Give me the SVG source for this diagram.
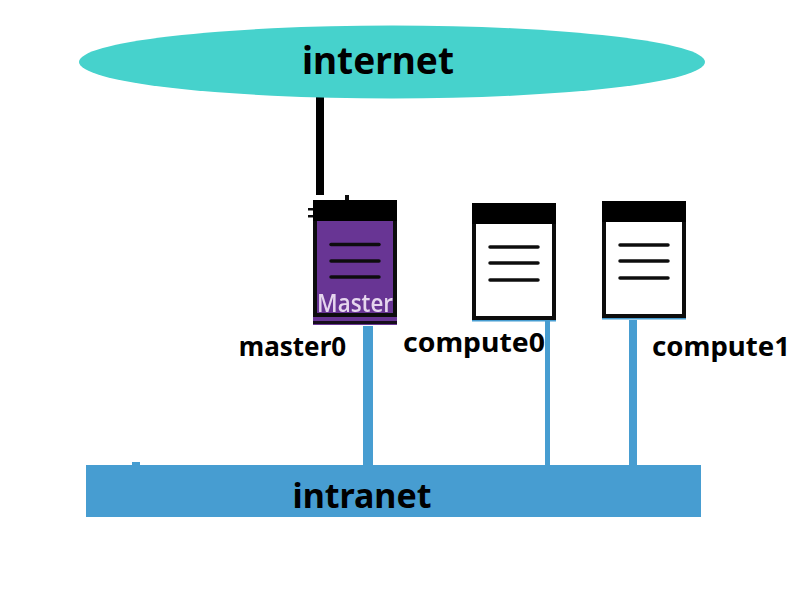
<svg xmlns="http://www.w3.org/2000/svg" width="800" height="600" viewBox="0 0 800 600">
<style>
.lbl{font-family:"Noto Sans","Liberation Sans",sans-serif;font-weight:700;fill:#000}
.big{font-size:37px}
.small{font-size:26px}
.blue{fill:#479dd1}
.hdr{fill:#040606}
.line{stroke:#111;stroke-width:3.5;stroke-linecap:round}
</style>
<defs><filter id="soft" x="-5%" y="-5%" width="110%" height="110%"><feGaussianBlur stdDeviation="0.6"/></filter></defs>
<rect width="800" height="600" fill="#fff"/>
<g id="connectors">
<rect x="316" y="97" width="8" height="98" fill="#000"/>
<rect class="blue" x="363" y="326" width="10" height="140"/>
<rect class="blue" x="545" y="321" width="5" height="145"/>
<rect class="blue" x="629" y="320" width="8" height="146"/>
<rect class="blue" x="472" y="320" width="84" height="1.5"/>
<rect class="blue" x="602" y="318" width="84" height="1.5"/>
</g>
<g id="internet">
<ellipse cx="392" cy="62" rx="313" ry="36.500" fill="#46d2cc"/>
<text class="lbl big" x="378" y="74" text-anchor="middle">internet</text>
</g>
<g id="master0">
<g filter="url(#soft)">
<rect x="308" y="208" width="8" height="2.500" fill="#111"/>
<rect x="308" y="215" width="8" height="2.500" fill="#111"/>
<rect x="345" y="195" width="4" height="7" fill="#111"/>
<rect x="313" y="200" width="84" height="125" fill="#673694"/>
<rect x="315" y="202" width="80" height="113" fill="none" stroke="#0a0a0a" stroke-width="4"/>
<rect class="hdr" x="313" y="200" width="84" height="21"/>
<rect x="313" y="321" width="84" height="3" fill="#14101c"/>
<line class="line" x1="331" y1="244.500" x2="379" y2="244.500"/>
<line class="line" x1="331" y1="261" x2="379" y2="261"/>
<line class="line" x1="331" y1="277" x2="379" y2="277"/>
<text x="317" y="311.500" textLength="76" lengthAdjust="spacingAndGlyphs" font-family="'Open Sans','Noto Sans',sans-serif" font-size="26" font-weight="600" fill="#e6d6ee">Master</text>
</g>
<text class="lbl small" x="292.500" y="356" text-anchor="middle">master0</text>
</g>
<g id="compute0">
<g filter="url(#soft)">
<rect x="474" y="205" width="80" height="113" fill="#fff" stroke="#111" stroke-width="4"/>
<rect class="hdr" x="472" y="203" width="84" height="21"/>
<line class="line" x1="490" y1="247" x2="538" y2="247"/>
<line class="line" x1="490" y1="263" x2="538" y2="263"/>
<line class="line" x1="490" y1="280" x2="538" y2="280"/>
</g>
<text class="lbl small" x="403" y="352" textLength="142" lengthAdjust="spacingAndGlyphs">compute0</text>
</g>
<g id="compute1">
<g filter="url(#soft)">
<rect x="604" y="203" width="80" height="113" fill="#fff" stroke="#111" stroke-width="4"/>
<rect class="hdr" x="602" y="201" width="84" height="21"/>
<line class="line" x1="620" y1="245" x2="668" y2="245"/>
<line class="line" x1="620" y1="261" x2="668" y2="261"/>
<line class="line" x1="620" y1="278" x2="668" y2="278"/>
</g>
<text class="lbl small" x="652" y="356" textLength="138" lengthAdjust="spacingAndGlyphs">compute1</text>
</g>
<g id="intranet">
<rect class="blue" x="132" y="462" width="8" height="4"/>
<rect class="blue" x="86" y="465" width="615" height="52"/>
<text class="lbl" x="362" y="508" text-anchor="middle" font-size="34">intranet</text>
</g>
</svg>
